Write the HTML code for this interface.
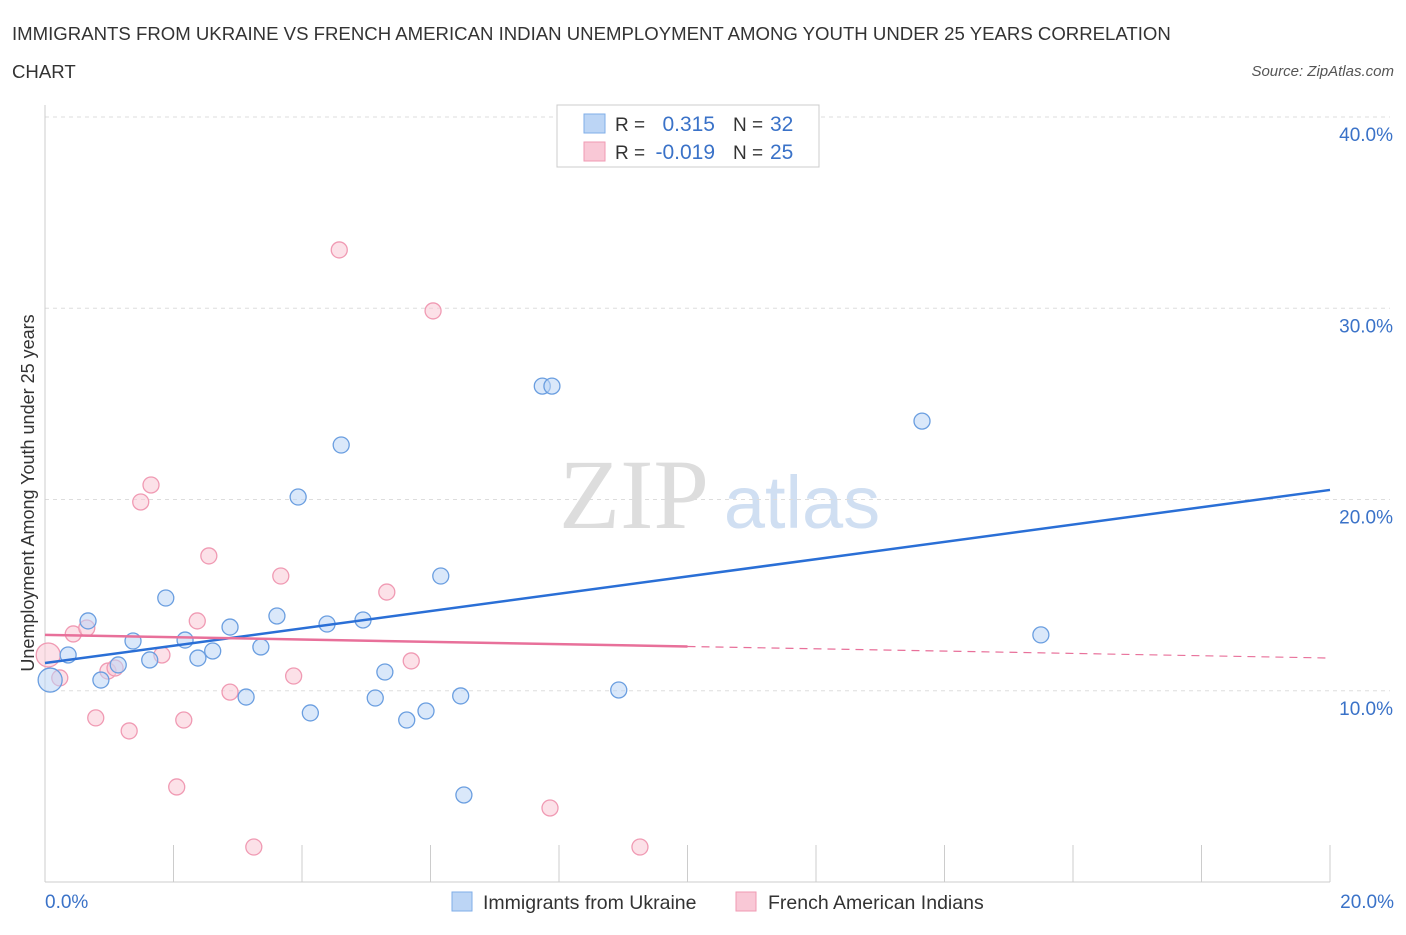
<!DOCTYPE html>
<html><head><meta charset="utf-8"><style>
body{margin:0;background:#fff;font-family:"Liberation Sans",sans-serif;}
svg text{font-family:"Liberation Sans",sans-serif;}
</style></head><body>
<svg id="c" width="1406" height="930">
<text x="12" y="40" font-size="18.6" fill="#333">IMMIGRANTS FROM UKRAINE VS FRENCH AMERICAN INDIAN UNEMPLOYMENT AMONG YOUTH UNDER 25 YEARS CORRELATION</text>
<text x="12" y="78" font-size="18.6" fill="#333">CHART</text>
<text x="1394" y="76" font-size="15" fill="#555" font-style="italic" text-anchor="end">Source: ZipAtlas.com</text>
<text x="634" y="528" font-size="100" fill="#ddd" style="font-family:'Liberation Serif',serif" text-anchor="middle">ZIP</text>
<text x="802" y="528" font-size="74" fill="#d0dff2" text-anchor="middle">atlas</text>
<text transform="translate(34,493) rotate(-90)" font-size="18" fill="#333" text-anchor="middle">Unemployment Among Youth under 25 years</text>
<g id="grid"></g><g id="marks"></g>
<g>
<rect x="557" y="105" width="262" height="62" fill="#fff" stroke="#ccc"/>
<rect x="584" y="114" width="21" height="19" fill="#bcd5f5" stroke="#7faee8"/>
<rect x="584" y="142" width="21" height="19" fill="#f9c8d6" stroke="#f09ab3"/>
<text x="615" y="131" font-size="19" fill="#333">R =</text><text x="715" y="131" font-size="21" fill="#3a72c8" text-anchor="end">0.315</text>
<text x="733" y="131" font-size="19" fill="#333">N =</text><text x="770" y="131" font-size="21" fill="#3a72c8">32</text>
<text x="615" y="159" font-size="19" fill="#333">R =</text><text x="715" y="159" font-size="21" fill="#3a72c8" text-anchor="end">-0.019</text>
<text x="733" y="159" font-size="19" fill="#333">N =</text><text x="770" y="159" font-size="21" fill="#3a72c8">25</text>
</g>
<g>
<rect x="452" y="892" width="20" height="19" fill="#bcd5f5" stroke="#7faee8"/>
<text x="483" y="909" font-size="19.5" fill="#333">Immigrants from Ukraine</text>
<rect x="736" y="892" width="20" height="19" fill="#f9c8d6" stroke="#f09ab3"/>
<text x="768" y="909" font-size="19.5" fill="#333">French American Indians</text>
</g>
</svg>
<script>
const blueX=[0.08,0.36,0.67,0.87,1.14,1.37,1.63,1.88,2.18,2.38,2.61,2.88,3.13,3.36,3.61,3.94,4.13,4.39,4.61,4.95,5.14,5.29,5.63,5.93,6.16,6.47,6.52,7.74,7.89,8.93,13.65,15.50];
const blueY=[10.56,11.87,13.65,10.56,11.35,12.60,11.61,14.85,12.65,11.71,12.08,13.33,9.67,12.29,13.91,20.13,8.84,13.49,22.85,13.70,9.62,10.98,8.47,8.94,16.00,9.73,4.55,25.93,25.93,10.04,24.10,12.92];
const pinkX=[0.05,0.23,0.44,0.65,0.79,0.98,1.09,1.31,1.49,1.65,1.82,2.05,2.16,2.37,2.55,2.88,3.25,3.67,3.87,4.58,5.32,5.70,6.04,7.86,9.26];
const pinkY=[11.87,10.67,12.97,13.28,8.58,11.03,11.19,7.90,19.87,20.76,11.87,4.97,8.47,13.65,17.05,9.93,1.83,16.00,10.77,33.05,15.16,11.56,29.86,3.87,1.83];
const blueLine=[11.45,20.5];
const pinkLine=[12.92,11.71];
const yTicks=[10,20,30,40];
const xTickLabels=["0.0%","20.0%"];
const X=v=>45+v*64.25, Y=v=>882-v*19.125;
const NS="http://www.w3.org/2000/svg";
function mk(p,t,a){const e=document.createElementNS(NS,t);for(const k in a)e.setAttribute(k,a[k]);p.appendChild(e);return e;}
const g=document.getElementById('grid'), m=document.getElementById('marks');
yTicks.forEach(t=>{const l=mk(g,'line',{x1:45,x2:1390,y1:Y(t),y2:Y(t),stroke:'#ddd','stroke-dasharray':'4,4'});


const tx=mk(g,'text',{x:1393,y:Y(t)+24,'font-size':19,fill:'#3a72c8','text-anchor':'end'});tx.textContent=t.toFixed(1)+'%';

});
mk(g,'line',{x1:45,x2:45,y1:105,y2:882,stroke:'#ccc'});
mk(g,'line',{x1:45,x2:1330,y1:882,y2:882,stroke:'#ccc'});
for(let i=0;i<=10;i++){const t=mk(g,'line',{x1:X(i*2),x2:X(i*2),y1:845,y2:882,stroke:'#ccc'});

}
[[0,'start',45],[20,'end',1394]].forEach((d,i)=>{const t=mk(g,'text',{x:d[2],y:908,'font-size':19,fill:'#3a72c8','text-anchor':d[1]});t.textContent=xTickLabels[i];

});
function pts(xs,ys,f,s,n){xs.forEach((x,i)=>{const r=(i==0)?12:8;const c=mk(m,'circle',{cx:X(x),cy:Y(ys[i]),r:r,fill:f,'fill-opacity':0.55,stroke:s,'stroke-width':1.3});

});}
pts(pinkX,pinkY,'#f9c8d6','#f09ab3','french');
pts(blueX,blueY,'#bcd5f5','#6a9ee0','ukraine');
const bl=mk(m,'line',{x1:X(0),y1:Y(blueLine[0]),x2:X(20),y2:Y(blueLine[1]),stroke:'#2a6fd6','stroke-width':2.5});


const pm=pinkLine[0]+(pinkLine[1]-pinkLine[0])*0.5;
const pl=mk(m,'line',{x1:X(0),y1:Y(pinkLine[0]),x2:X(10),y2:Y(pm),stroke:'#e8709a','stroke-width':2.5});


const pd=mk(m,'line',{x1:X(10),y1:Y(pm),x2:X(20),y2:Y(pinkLine[1]),stroke:'#e8709a','stroke-width':1.2,'stroke-dasharray':'8,6'});


</script>
</body></html>
